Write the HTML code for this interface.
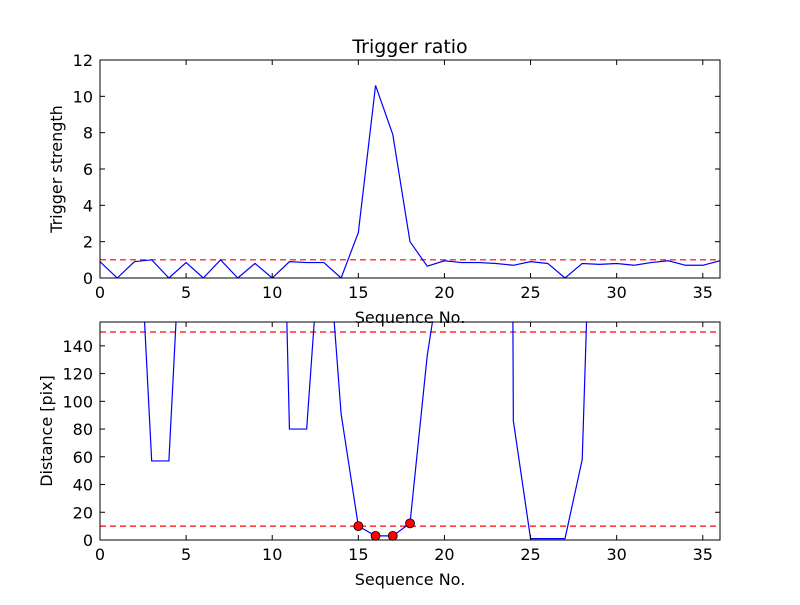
<!DOCTYPE html>
<html><head><meta charset="utf-8"><style>
body{margin:0;background:#fff}
svg text{font-family:"DejaVu Sans","Liberation Sans",sans-serif;fill:#000}
</style></head><body>
<svg id="chart" width="800" height="600" xmlns="http://www.w3.org/2000/svg">
<rect width="800" height="600" fill="#fff"/>
<defs>
<clipPath id="c1"><rect x="100" y="60" width="620" height="218"/></clipPath>
<clipPath id="c2"><rect x="100" y="322" width="620" height="218"/></clipPath>
</defs>
<g id="g"></g>
</svg>
<script>
const xs = [];
for (let i = 0; i <= 36; i++) xs.push(i);
const ratioValues = [0.9,0,0.9,1.0,0,0.85,0,1.0,0,0.8,0,0.9,0.85,0.85,0,2.5,10.6,7.9,2.0,0.65,0.95,0.85,0.85,0.8,0.7,0.9,0.8,0,0.8,0.75,0.8,0.7,0.85,0.95,0.7,0.7,0.95];
const distValues = [1000,1000,300,57,57,300,1000,1000,1000,1000,593,80,80,256,91,10,3,3,12,133,213,1000,1000,3000,86,1,1,1,58,454,1000,1000,1000,1000,1000,1000,1000];
const markedIdx = [15,16,17,18];
const xTicks = [0,5,10,15,20,25,30,35];
const yTicksTop = [0,2,4,6,8,10,12];
const yTicksBot = [0,20,40,60,80,100,120,140];
const ratioThreshold = 1;
const distThresholds = [10,150];

const NS = "http://www.w3.org/2000/svg";
const g = document.getElementById('g');
function el(tag, attrs, parent) {
  const e = document.createElementNS(NS, tag);
  for (const k in attrs) e.setAttribute(k, attrs[k]);
  (parent || g).appendChild(e);
  return e;
}
const L = 100, R = 720;
const xS = v => L + v / 36 * (R - L);
function panel(top, bottom, ymax, yTicks, vals, clip, yLabel, thresholds, name) {
  const yS = v => bottom - v / ymax * (bottom - top);
  const grp = el('g', {});
  
  
  thresholds.forEach(t => {
    const l = el('line', {x1: L, x2: R, y1: yS(t), y2: yS(t), stroke: '#f00', 'stroke-width': 1.2, 'stroke-dasharray': '6,4', 'clip-path': 'url(#' + clip + ')'}, grp);
    
    
  });
  const pts = xs.map((x, i) => xS(x) + ',' + yS(vals[i])).join(' ');
  const pl = el('polyline', {points: pts, fill: 'none', stroke: '#0000ff', 'stroke-width': 1.2, 'clip-path': 'url(#' + clip + ')'}, grp);
  
  
  const fr = el('rect', {x: L, y: top, width: R - L, height: bottom - top, fill: 'none', stroke: '#000', 'stroke-width': 1}, grp);
  
  
  xTicks.forEach(t => {
    const x = xS(t);
    el('line', {x1: x, x2: x, y1: bottom, y2: bottom - 5, stroke: '#000'}, grp);
    el('line', {x1: x, x2: x, y1: top, y2: top + 5, stroke: '#000'}, grp);
    const tx = el('text', {x: x, y: bottom + 20, 'text-anchor': 'middle', 'font-size': 16}, grp);
    tx.textContent = t;
    
    
  });
  yTicks.forEach(t => {
    const y = yS(t);
    el('line', {x1: L, x2: L + 5, y1: y, y2: y, stroke: '#000'}, grp);
    el('line', {x1: R, x2: R - 5, y1: y, y2: y, stroke: '#000'}, grp);
    const tx = el('text', {x: L - 7, y: y + 6, 'text-anchor': 'end', 'font-size': 16}, grp);
    tx.textContent = t;
    
    
  });
  const xl = el('text', {x: 410, y: bottom + 45, 'text-anchor': 'middle', 'font-size': 16}, grp);
  xl.textContent = 'Sequence No.';
  
  
  const cy = (top + bottom) / 2;
  const yl = el('text', {x: 0, y: 0, 'text-anchor': 'middle', 'font-size': 16, transform: 'translate(' + (yLabel.x) + ',' + cy + ') rotate(-90)'}, grp);
  yl.textContent = yLabel.t;
  
  
  return yS;
}
panel(60, 278, 12, yTicksTop, ratioValues, 'c1', {t: 'Trigger strength', x: 62}, [ratioThreshold], 'ratio-panel');
const yB = panel(322, 540, 157.2, yTicksBot, distValues, 'c2', {t: 'Distance [pix]', x: 52}, distThresholds, 'distance-panel');
markedIdx.forEach(i => {
  const c = el('circle', {cx: xS(xs[i]), cy: yB(distValues[i]), r: 4.5, fill: '#f00', stroke: '#000', 'stroke-width': 0.8});
  
  
});
const title = el('text', {x: 410, y: 53, 'text-anchor': 'middle', 'font-size': 19});
title.textContent = 'Trigger ratio';


</script>
</body></html>
